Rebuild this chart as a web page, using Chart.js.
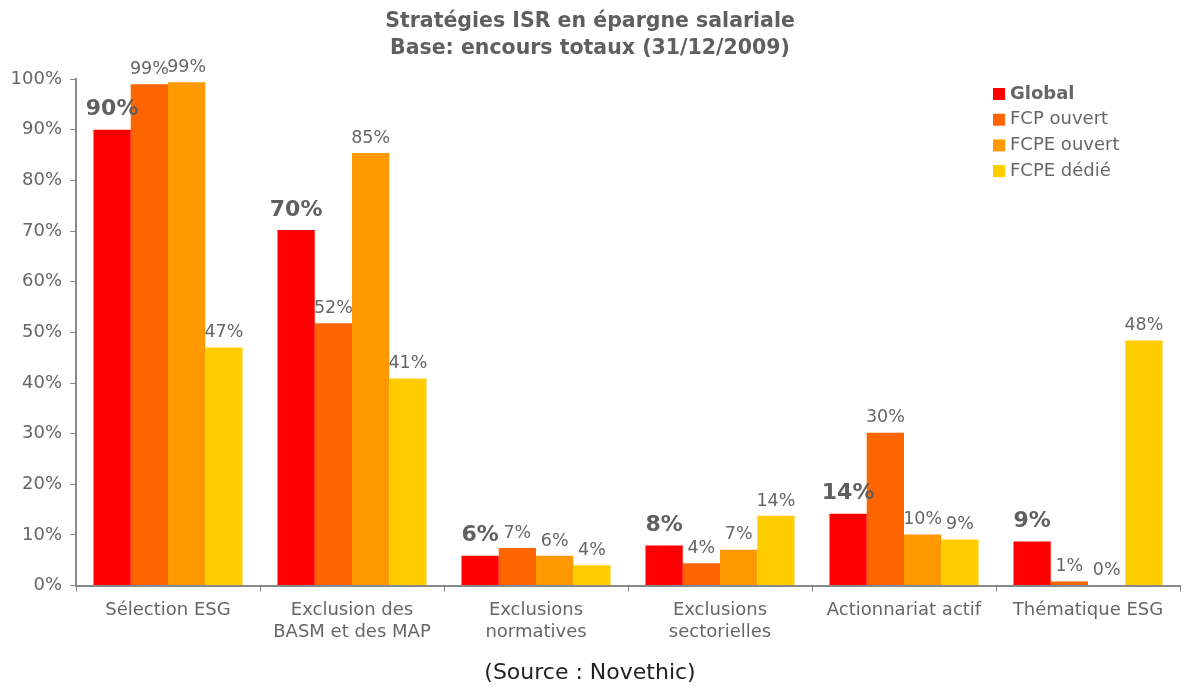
<!DOCTYPE html>
<html>
<head>
<meta charset="utf-8">
<script src="https://cdn.jsdelivr.net/npm/chart.js@4.4.0/dist/chart.umd.min.js"></script>
<style>
  body { margin: 0; background: #fff; }
  #wrap { width: 1190px; height: 686px; }
</style>
</head>
<body>
<div id="wrap"><canvas id="isrChart"></canvas></div>
<script>
var categories = [
    'Sélection ESG',
    ['Exclusion des', 'BASM et des MAP'],
    ['Exclusions', 'normatives'],
    ['Exclusions', 'sectorielles'],
    'Actionnariat actif',
    'Thématique ESG'
];
var seriesNames = ['Global', 'FCP ouvert', 'FCPE ouvert', 'FCPE dédié'];
var globalVals = [90, 70.2, 5.9, 7.9, 14.2, 8.7];
var fcpOuvert = [99, 51.8, 7.4, 4.4, 30.2, 0.8];
var fcpeOuvert = [99.4, 85.4, 5.9, 7.1, 10.1, 0];
var fcpeDedie = [47, 40.9, 4, 13.8, 9.1, 48.4];
var yTicks = [0, 10, 20, 30, 40, 50, 60, 70, 80, 90, 100];

var colors = ['#ff0000', '#ff6600', '#ff9900', '#ffcc00'];
var textGrey = '#666666';
var fontFam = "'DejaVu Sans', Verdana, sans-serif";

// labels above bars
var barLabels = {
    id: 'barLabels',
    afterDatasetsDraw: function(chart) {
        var ctx = chart.ctx;
        ctx.save();
        ctx.textAlign = 'center';
        ctx.textBaseline = 'bottom';
        chart.data.datasets.forEach(function(ds, i) {
            var meta = chart.getDatasetMeta(i);
            meta.data.forEach(function(bar, j) {
                var gap = 6;
                if (i === 0) {
                    ctx.font = 'bold 22px ' + fontFam;
                    ctx.fillStyle = '#5f5f5f';
                    gap = 9;
                } else {
                    ctx.font = '17.5px ' + fontFam;
                    ctx.fillStyle = textGrey;
                }
                ctx.fillText(Math.round(ds.data[j]) + '%', bar.x, bar.y - gap);
            });
        });
        ctx.restore();
    }
};

// legend in the top right corner of the plot
var cornerLegend = {
    id: 'cornerLegend',
    afterDraw: function(chart) {
        var ctx = chart.ctx;
        var x = 993, y = 94;
        ctx.save();
        ctx.textBaseline = 'middle';
        seriesNames.forEach(function(name, i) {
            ctx.fillStyle = colors[i];
            ctx.fillRect(x, y + i * 25.7 - 6, 12, 12);
            ctx.fillStyle = textGrey;
            ctx.font = (i === 0 ? 'bold ' : '') + '18px ' + fontFam;
            ctx.fillText(name, x + 17, y + i * 25.7);
        });
        ctx.restore();
    }
};

var ctx = document.getElementById('isrChart').getContext('2d');
var isrChart = new Chart(ctx, {
    type: 'bar',
    data: {
        labels: categories,
        datasets: [
            { label: seriesNames[0], data: globalVals, backgroundColor: colors[0] },
            { label: seriesNames[1], data: fcpOuvert, backgroundColor: colors[1] },
            { label: seriesNames[2], data: fcpeOuvert, backgroundColor: colors[2] },
            { label: seriesNames[3], data: fcpeDedie, backgroundColor: colors[3] }
        ]
    },
    options: {
        responsive: true,
        maintainAspectRatio: false,
        animation: false,
        layout: { padding: { left: 0, right: 10, top: 0, bottom: 0 } },
        datasets: {
            bar: { categoryPercentage: 0.81, barPercentage: 1.0 }
        },
        plugins: {
            legend: { display: false },
            tooltip: { enabled: false },
            title: {
                display: true,
                text: ['Stratégies ISR en épargne salariale', 'Base: encours totaux (31/12/2009)'],
                color: '#5f5f5f',
                font: { family: fontFam, size: 20.5, weight: 'bold', lineHeight: 1.32 },
                padding: { top: 8, bottom: 17 }
            },
            subtitle: {
                display: true,
                position: 'bottom',
                text: '(Source : Novethic)',
                color: '#222222',
                font: { family: fontFam, size: 22, lineHeight: 1.2 },
                padding: { top: 8, bottom: 0 }
            }
        },
        scales: {
            x: {
                afterFit: function(axis) { axis.height = 66; },
                grid: {
                    display: true,
                    drawOnChartArea: false,
                    offset: true,
                    color: '#888888',
                    tickLength: 6
                },
                border: { color: '#888888', width: 2 },
                ticks: {
                    color: textGrey,
                    font: { family: fontFam, size: 18, lineHeight: 1.2 },
                    maxRotation: 0,
                    autoSkip: false,
                    padding: 8
                }
            },
            y: {
                min: 0,
                max: 100,
                afterFit: function(axis) { axis.width = 76; },
                afterBuildTicks: function(axis) {
                    axis.ticks = yTicks.map(function(v) { return { value: v }; });
                },
                grid: {
                    display: true,
                    drawOnChartArea: false,
                    color: '#888888',
                    tickLength: 6
                },
                border: { color: '#888888', width: 2 },
                ticks: {
                    color: textGrey,
                    font: { family: fontFam, size: 18 },
                    padding: 8,
                    callback: function(v) { return v + '%'; }
                }
            }
        }
    },
    plugins: [barLabels, cornerLegend]
});
</script>
</body>
</html>
